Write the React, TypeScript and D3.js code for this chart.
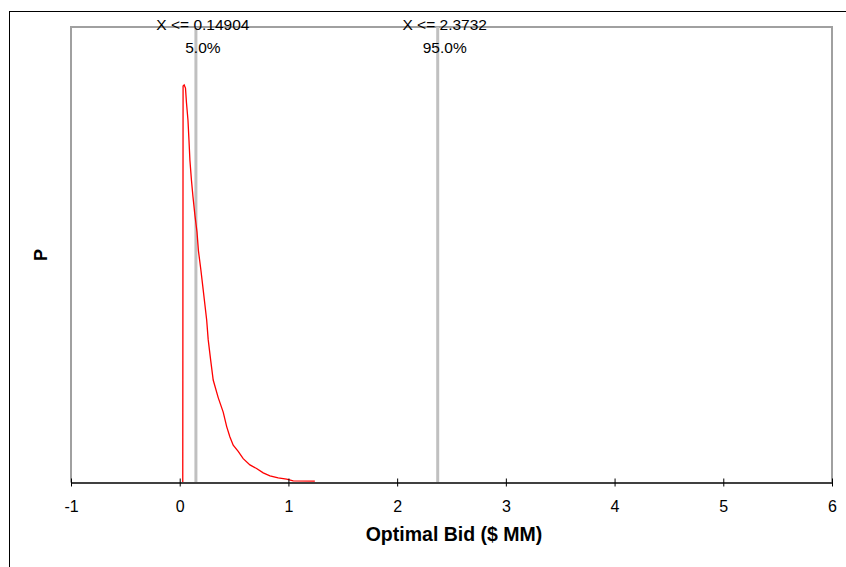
import React, { useEffect, useRef } from "react";
import * as d3 from "d3";

// density curve (x in $ MM, P in arbitrary units)
const curveX = [0.028, 0.031, 0.041, 0.053, 0.062, 0.076, 0.085, 0.094, 0.108, 0.122, 0.14, 0.159, 0.172, 0.195, 0.216, 0.248, 0.262, 0.285, 0.308, 0.354, 0.4, 0.432, 0.462, 0.492, 0.538, 0.584, 0.646, 0.707, 0.768, 0.83, 0.906, 0.983, 1.044, 1.243];
const curveP = [0, 3.83, 3.84, 3.81, 3.67, 3.5, 3.31, 3.11, 2.92, 2.76, 2.58, 2.42, 2.24, 2.05, 1.86, 1.57, 1.38, 1.18, 0.99, 0.82, 0.68, 0.54, 0.44, 0.36, 0.3, 0.23, 0.17, 0.135, 0.093, 0.064, 0.044, 0.032, 0.015, 0.013];

const markerX = [0.14904, 2.3732];
const markerLabels = ["X <= 0.14904", "X <= 2.3732"];
const markerPercents = ["5.0%", "95.0%"];

const xTicks = [-1, 0, 1, 2, 3, 4, 5, 6];

export default function App() {
  const ref = useRef<SVGSVGElement>(null);

  useEffect(() => {
    const width = 846;
    const height = 567;
    const plot = { left: 71, right: 832, top: 27, bottom: 482.5 };
    const font = "Arial, 'Liberation Sans', sans-serif";

    const svg = d3.select(ref.current);
    svg.selectAll("*").remove();
    svg.attr("width", width).attr("height", height);

    // outer chart border (runs off the right and bottom edges)
    svg.append("rect")
      .attr("x", 9.5).attr("y", 11.5)
      .attr("width", 900).attr("height", 600)
      .attr("fill", "#fff").attr("stroke", "#000").attr("stroke-width", 1);

    const x = d3.scaleLinear().domain([-1, 6]).range([plot.left, plot.right]);
    const y = d3.scaleLinear().domain([0, 4.4]).range([plot.bottom, plot.top]);

    // plot frame: top, left, right in gray
    svg.append("path")
      .attr("d", `M${plot.left},${plot.bottom} V${plot.top} H${plot.right} V${plot.bottom}`)
      .attr("fill", "none").attr("stroke", "#a0a0a0").attr("stroke-width", 2);

    // percentile lines
    svg.selectAll("line.marker")
      .data(markerX)
      .enter()
      .append("line")
      .attr("class", "marker")
      .attr("x1", d => x(d)).attr("x2", d => x(d))
      .attr("y1", plot.top).attr("y2", plot.bottom)
      .attr("stroke", "#c0c0c0").attr("stroke-width", 3);

    // density curve
    const pts = curveX.map((v, i) => [v, curveP[i]] as [number, number]);
    const line = d3.line<[number, number]>().x(d => x(d[0])).y(d => y(d[1]));
    svg.append("path")
      .datum(pts)
      .attr("d", line)
      .attr("fill", "none").attr("stroke", "#ff0000").attr("stroke-width", 1.3);

    // x axis
    const axis = svg.append("g")
      .attr("transform", `translate(0,${plot.bottom})`)
      .call(d3.axisBottom(x).tickValues(xTicks).tickSizeInner(4).tickSizeOuter(0).tickFormat(d => String(d)));
    axis.select(".domain").attr("stroke", "#404040").attr("stroke-width", 2);
    axis.selectAll(".tick line").attr("stroke", "#000").attr("y1", -4).attr("y2", 4);
    axis.selectAll("text")
      .attr("fill", "#000")
      .attr("y", 29).attr("dy", null)
      .style("font-family", font)
      .style("font-size", "16px");

    // percentile labels
    markerX.forEach((v, i) => {
      svg.append("text")
        .attr("x", x(v) + 7).attr("y", 30)
        .attr("text-anchor", "middle")
        .style("font-family", font).style("font-size", "15.5px")
        .text(markerLabels[i]);
      svg.append("text")
        .attr("x", x(v) + 7).attr("y", 53)
        .attr("text-anchor", "middle")
        .style("font-family", font).style("font-size", "15.5px")
        .text(markerPercents[i]);
    });

    // axis titles
    svg.append("text")
      .attr("x", 454).attr("y", 541)
      .attr("text-anchor", "middle")
      .style("font-family", font).style("font-size", "19.5px").style("font-weight", "bold")
      .text("Optimal Bid ($ MM)");

    svg.append("text")
      .attr("transform", "translate(47,255) rotate(-90)")
      .attr("text-anchor", "middle")
      .style("font-family", font).style("font-size", "18px").style("font-weight", "bold")
      .text("P");
  }, []);

  return (
    <svg ref={ref} style={{ position: "absolute", left: 0, top: 0 }}></svg>
  );
}
